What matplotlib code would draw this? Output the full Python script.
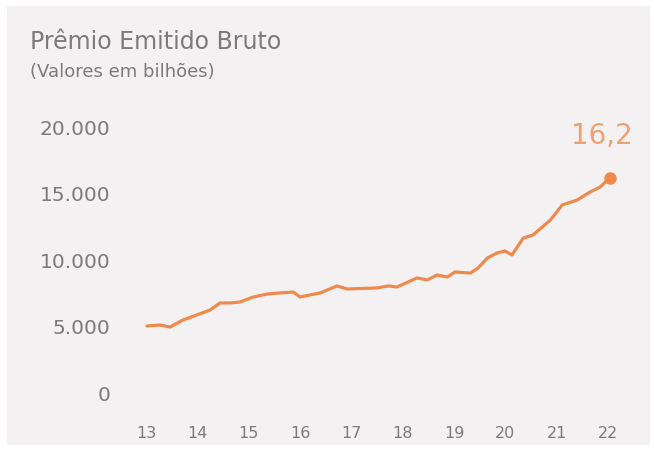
import matplotlib
matplotlib.use("Agg")
import matplotlib.pyplot as plt
from matplotlib.patches import Rectangle

# premio emitido bruto, R$ milhoes (eixo em milhares de milhoes)
years = [13.02, 13.27, 13.47, 13.72, 13.99, 14.25, 14.44, 14.64, 14.83, 15.09,
         15.36, 15.60, 15.87, 16.00, 16.39, 16.72, 16.92, 17.50, 17.72, 17.89,
         18.28, 18.48, 18.67, 18.87, 19.02, 19.32, 19.47, 19.65, 19.84, 19.99,
         20.13, 20.35, 20.54, 20.88, 21.11, 21.40, 21.65, 21.85, 22.04]
values = [5040, 5110, 4960, 5490, 5870, 6240, 6770, 6770, 6840, 7220,
          7440, 7520, 7590, 7220, 7520, 8050, 7820, 7900, 8050, 7970,
          8650, 8500, 8870, 8720, 9100, 9020, 9400, 10150, 10530, 10680,
          10380, 11650, 11880, 13010, 14140, 14510, 15110, 15490, 16200]
year_ticks = [13, 14, 15, 16, 17, 18, 19, 20, 21, 22]
y_ticks = [0, 5000, 10000, 15000, 20000]
y_labels = ["0", "5.000", "10.000", "15.000", "20.000"]
last_label = "16,2"

orange = "#f08a4c"
grey = "#7b7b7b"
panel = "#f3f1f1"

plt.rcParams["font.family"] = ["DejaVu Sans"]

fig = plt.figure(figsize=(6.54, 4.49), dpi=100)
fig.patch.set_facecolor("white")
W, H = 654.0, 449.0

# grey card behind everything
bg = fig.add_axes([0, 0, 1, 1], zorder=0)
bg.axis("off")
bg.add_patch(Rectangle((7/W, 4/H), 643/W, 439/H, transform=bg.transAxes,
                       facecolor=panel, edgecolor="none"))

ax = fig.add_axes([130/W, 1 - 405/H, 500/W, 295/H], zorder=2)
ax.set_facecolor("none")

ax.plot(years, values, color=orange, lw=2.3, solid_joinstyle="round",
        solid_capstyle="round")
ax.plot(years[-1], values[-1], "o", color=orange, ms=8)
ax.annotate(last_label, (years[-1], values[-1]), xytext=(-6, 20),
            textcoords="offset points", ha="center", va="bottom",
            fontsize=20, color="#eea274")

ax.set_xlim(12.688, 22.43)
ax.set_ylim(-902, 21279)
ax.set_xticks(year_ticks)
ax.set_xticklabels([str(y) for y in year_ticks])
ax.set_yticks(y_ticks)
ax.set_yticklabels(y_labels)
ax.tick_params(length=0, colors=grey, labelsize=11.5)
ax.tick_params(axis="y", pad=14, labelsize=14.5)
ax.tick_params(axis="x", pad=15)
for s in ax.spines.values():
    s.set_visible(False)

fig.text(30/W, 1 - 42/H, "Prêmio Emitido Bruto", fontsize=17, color=grey,
         va="center", ha="left")
fig.text(30/W, 1 - 72/H, "(Valores em bilhões)", fontsize=13, color=grey,
         va="center", ha="left")

fig.savefig("out.png", dpi=100)
